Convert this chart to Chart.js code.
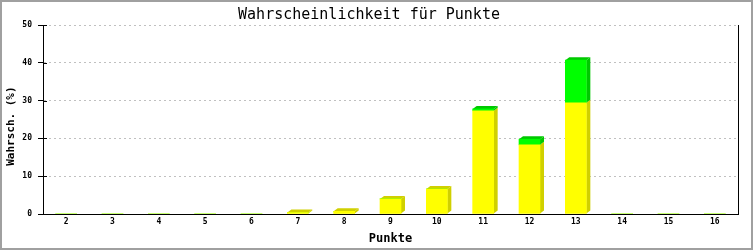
<!DOCTYPE html>
<html>
<head>
<meta charset="utf-8">
<script src="https://cdn.jsdelivr.net/npm/chart.js@4"></script>
<style>
html,body{margin:0;padding:0;background:#fff;}
canvas{display:block;}
</style>
</head>
<body>
<canvas id="c" width="753" height="250"></canvas>
<script>
const categories = ['2','3','4','5','6','7','8','9','10','11','12','13','14','15','16'];
const yellowValues = [0,0,0,0,0,0.4,0.7,4.0,6.6,27.3,18.3,29.4,0,0,0];
const greenValues  = [0,0,0,0,0,0,0,0,0,0.5,1.5,11.3,0,0,0];
const yTicks = [0,10,20,30,40,50];

const depth3d = {
  id: 'depth3d',
  beforeDatasetsDraw(chart) {
    const ctx = chart.ctx;
    const dx = 4, dy = 3;
    const n = chart.data.labels.length;
    ctx.save();
    for (let i = 0; i < n; i++) {
      let topBar = null;
      chart.data.datasets.forEach((ds, di) => {
        const meta = chart.getDatasetMeta(di);
        const el = meta.data[i];
        if (!el || !ds.data[i]) return;
        const p = el.getProps(['x','y','base','width'], true);
        const r = p.x + p.width / 2;
        ctx.fillStyle = ds.sideColor;
        ctx.beginPath();
        ctx.moveTo(r, p.base);
        ctx.lineTo(r, p.y);
        ctx.lineTo(r + dx, p.y - dy);
        ctx.lineTo(r + dx, p.base - dy);
        ctx.closePath();
        ctx.fill();
        topBar = {x: p.x, y: p.y, w: p.width, c: ds.sideColor};
      });
      if (topBar) {
        const l = topBar.x - topBar.w / 2, r = topBar.x + topBar.w / 2;
        ctx.fillStyle = topBar.c;
        ctx.beginPath();
        ctx.moveTo(l, topBar.y);
        ctx.lineTo(l + dx, topBar.y - dy);
        ctx.lineTo(r + dx, topBar.y - dy);
        ctx.lineTo(r, topBar.y);
        ctx.closePath();
        ctx.fill();
      }
    }
    ctx.restore();
  },
  afterDraw(chart) {
    const ctx = chart.ctx;
    const a = chart.chartArea;
    const ys = chart.scales.y;
    ctx.save();
    ctx.strokeStyle = '#000';
    ctx.lineWidth = 1;
    ctx.beginPath();
    ctx.moveTo(Math.round(a.right) + 0.5, a.top);
    ctx.lineTo(Math.round(a.right) + 0.5, a.bottom);
    ys.ticks.forEach(t => {
      const py = Math.round(ys.getPixelForValue(t.value)) + 0.5;
      ctx.moveTo(a.left, py);
      ctx.lineTo(a.left + 4, py);
    });
    ctx.stroke();
    ctx.strokeStyle = '#a0a0a0';
    ctx.lineWidth = 2;
    ctx.strokeRect(1, 1, chart.width - 2, chart.height - 2);
    ctx.restore();
  }
};

Chart.defaults.font.family = "'DejaVu Sans Mono', monospace";
Chart.defaults.color = '#000';

new Chart(document.getElementById('c'), {
  type: 'bar',
  data: {
    labels: categories,
    datasets: [
      {label: 'a', data: yellowValues, backgroundColor: '#ffff00', sideColor: '#d0d000', borderWidth: 0, barThickness: 21},
      {label: 'b', data: greenValues, backgroundColor: '#00ff00', sideColor: '#00c800', borderWidth: 0, barThickness: 21}
    ]
  },
  plugins: [depth3d],
  options: {
    responsive: false,
    animation: false,
    layout: {padding: {left: 0, right: 15, top: 0, bottom: 0}},
    plugins: {
      legend: {display: false},
      tooltip: {enabled: false},
      title: {
        display: true,
        text: 'Wahrscheinlichkeit für Punkte',
        color: '#000',
        font: {size: 15, weight: 'normal'},
        padding: {top: 6, bottom: 1}
      }
    },
    scales: {
      x: {
        stacked: true,
        grid: {display: true, drawOnChartArea: false, drawTicks: false},
        border: {display: true, color: '#000', width: 1},
        ticks: {font: {size: 8, weight: 'bold'}, color: '#000', padding: 3, maxRotation: 0},
        title: {display: true, text: 'Punkte', color: '#000', font: {size: 12, weight: 'bold'}, padding: {top: 2, bottom: 4}},
        afterFit(s) { s.height = 36; }
      },
      y: {
        stacked: true,
        min: yTicks[0],
        max: yTicks[yTicks.length - 1],
        afterBuildTicks(s) { s.ticks = yTicks.map(v => ({value: v})); },
        grid: {color: '#c0c0c0', tickColor: '#000', tickLength: 5, lineWidth: 1},
        border: {display: true, color: '#000', width: 1, dash: [2, 3]},
        ticks: {font: {size: 8, weight: 'bold'}, color: '#000', padding: 6},
        title: {display: true, text: 'Wahrsch. (%)  ', color: '#000', font: {size: 11, weight: 'bold'}, padding: {top: 5, bottom: 0}},
        afterFit(s) { s.width = 43; }
      }
    }
  }
});
</script>
</body>
</html>
